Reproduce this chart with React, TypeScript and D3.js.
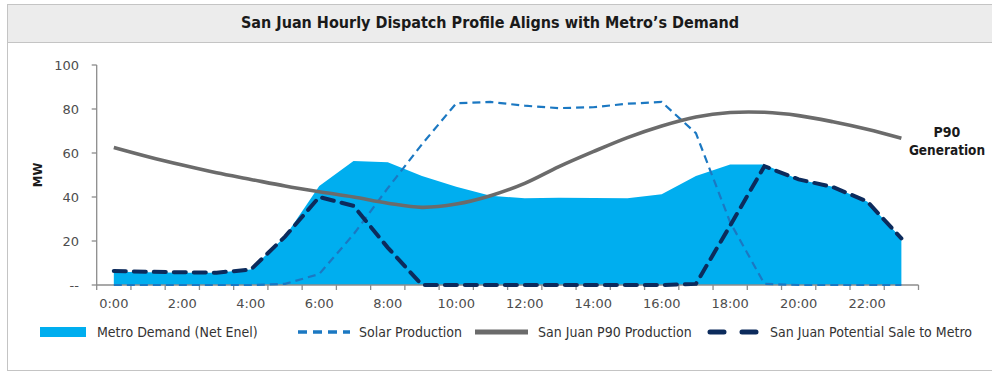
import React from "react";
import * as d3 from "d3";

// Hourly categories 0:00 .. 23:00
const hours: string[] = d3.range(24).map((h) => `${h}:00`);
const tickLabels: string[] = hours.filter((_, i) => i % 2 === 0);
const yTicks: number[] = [0, 20, 40, 60, 80, 100];

// Series values in MW
const metroDemand: number[] = [
  6, 5.8, 5.6, 5.6, 7, 22, 45, 56.4, 55.8, 49.5, 44.7, 40.6,
  39.4, 39.7, 39.5, 39.4, 41.2, 49.5, 54.8, 54.8, 48, 44.7, 37.9, 21.2,
];
const solarProduction: number[] = [
  0, 0, 0, 0, 0, 0.5, 5, 23, 44, 64, 82.6, 83.2,
  81.5, 80.4, 80.8, 82.4, 83.2, 69, 28.5, 0.5, 0, 0, 0, 0,
];
const p90Production: number[] = [
  62.5, 58.3, 54.5, 51, 48, 45, 42.4, 40, 37.2, 35.3, 36.8, 40.6,
  46.2, 53.8, 60.6, 67, 72.3, 76.4, 78.4, 78.5, 77, 74.2, 70.8, 66.7,
];
const potentialSale: number[] = [
  6.4, 6, 5.8, 5.6, 7, 22, 40, 36, 17, 0, 0, 0,
  0, 0, 0, 0, 0, 0.5, 27, 54, 48, 44.5, 38, 21.2,
];

const W = 992;
const H = 372;
const M = { left: 96.7, right: 918.5, top: 65, bottom: 285 };

const COLORS = {
  demand: "#00aeef",
  solar: "#1b78c2",
  p90: "#6b6b6b",
  sale: "#0c2b5c",
  axis: "#8c8c8c",
  text: "#4d4d4d",
  frame: "#c4c4c4",
  band: "#ececec",
};

const narrow = "'Liberation Sans Narrow', 'DejaVu Sans Condensed', 'Arial Narrow', sans-serif";
const wide = "'DejaVu Sans', Verdana, sans-serif";

export default function App() {
  const xBand = d3.scaleBand<string>().domain(hours).range([M.left, M.right]);
  const xc = (i: number) => (xBand(hours[i]) as number) + xBand.bandwidth() / 2;
  const y = d3.scaleLinear().domain([0, 100]).range([M.bottom, M.top]);

  const area = d3
    .area<number>()
    .x((_, i) => xc(i))
    .y0(y(0))
    .y1((d) => y(d));
  const lineLinear = d3
    .line<number>()
    .x((_, i) => xc(i))
    .y((d) => y(d));
  const lineSmooth = d3
    .line<number>()
    .x((_, i) => xc(i))
    .y((d) => y(d))
    .curve(d3.curveCatmullRom.alpha(0.5));

  const boundaries = [...hours.map((h) => xBand(h) as number), M.right];

  const legendY = 332;
  const legend = [
    { label: "Metro Demand (Net Enel)", kind: "area", x0: 40, x1: 86, tx: 97 },
    { label: "Solar Production", kind: "solar", x0: 298, x1: 350, tx: 359 },
    { label: "San Juan P90 Production", kind: "p90", x0: 475, x1: 528, tx: 538 },
    { label: "San Juan Potential Sale to Metro", kind: "sale", x0: 707, x1: 760, tx: 770 },
  ];

  return (
    <svg
      width={W}
      height={H}
      style={{ position: "absolute", left: 0, top: 0, background: "#fff" }}
    >
      {/* frame and title band */}
      <rect x={7.5} y={4.5} width={W} height={366} fill="#fff" stroke={COLORS.frame} />
      <rect x={7.5} y={4.5} width={W} height={38} fill={COLORS.band} stroke={COLORS.frame} />
      <text
        x={490}
        y={28}
        textAnchor="middle"
        fontFamily={narrow}
        fontWeight="bold"
        fontSize={16}
        fill="#1a1a1a"
      >
        San Juan Hourly Dispatch Profile Aligns with Metro’s Demand
      </text>

      {/* demand area */}
      <path d={area(metroDemand) as string} fill={COLORS.demand} />

      {/* axes */}
      <line x1={M.left} x2={M.left} y1={M.top} y2={M.bottom} stroke={COLORS.axis} strokeWidth={1.3} />
      <line x1={M.left} x2={M.right} y1={M.bottom} y2={M.bottom} stroke={COLORS.axis} strokeWidth={1.3} />
      {yTicks.map((t) => (
        <g key={t}>
          <line x1={M.left - 5} x2={M.left} y1={y(t)} y2={y(t)} stroke={COLORS.axis} strokeWidth={1.3} />
          <text
            x={79}
            y={y(t)}
            dy="0.35em"
            textAnchor="end"
            fontFamily={wide}
            fontSize={13}
            fill={COLORS.text}
          >
            {t === 0 ? "--" : t}
          </text>
        </g>
      ))}
      {boundaries.map((bx, i) => (
        <line key={i} x1={bx} x2={bx} y1={M.bottom} y2={M.bottom + 5} stroke={COLORS.axis} strokeWidth={1.3} />
      ))}
      {tickLabels.map((lab) => {
        const i = hours.indexOf(lab);
        return (
          <text
            key={lab}
            x={xc(i)}
            y={303}
            dy="0.35em"
            textAnchor="middle"
            fontFamily={wide}
            fontSize={13}
            fill={COLORS.text}
          >
            {lab}
          </text>
        );
      })}
      <text
        transform={`translate(42,175) rotate(-90)`}
        textAnchor="middle"
        fontFamily={narrow}
        fontWeight="bold"
        fontSize={13}
        fill="#1a1a1a"
      >
        MW
      </text>

      {/* series lines */}
      <path
        d={lineLinear(solarProduction) as string}
        fill="none"
        stroke={COLORS.solar}
        strokeWidth={2.2}
        strokeDasharray="8 5"
      />
      <path
        d={lineSmooth(p90Production) as string}
        fill="none"
        stroke={COLORS.p90}
        strokeWidth={3.6}
      />
      <path
        d={lineLinear(potentialSale) as string}
        fill="none"
        stroke={COLORS.sale}
        strokeWidth={4}
        strokeDasharray="12 8"
        strokeLinecap="round"
      />

      {/* line annotation */}
      <text
        x={947}
        y={132}
        dy="0.35em"
        textAnchor="middle"
        fontFamily={narrow}
        fontWeight="bold"
        fontSize={14}
        fill="#1a1a1a"
      >
        P90
      </text>
      <text
        x={947}
        y={150}
        dy="0.35em"
        textAnchor="middle"
        fontFamily={narrow}
        fontWeight="bold"
        fontSize={13.5}
        fill="#1a1a1a"
      >
        Generation
      </text>

      {/* legend */}
      {legend.map((l) => (
        <g key={l.label}>
          {l.kind === "area" && (
            <rect x={l.x0} y={legendY - 5} width={l.x1 - l.x0} height={10} fill={COLORS.demand} />
          )}
          {l.kind === "solar" && (
            <line
              x1={l.x0}
              x2={l.x1}
              y1={legendY}
              y2={legendY}
              stroke={COLORS.solar}
              strokeWidth={3.5}
              strokeDasharray="9 6"
            />
          )}
          {l.kind === "p90" && (
            <line x1={l.x0} x2={l.x1} y1={legendY} y2={legendY} stroke={COLORS.p90} strokeWidth={5} />
          )}
          {l.kind === "sale" && (
            <line
              x1={l.x0 + 3}
              x2={l.x1}
              y1={legendY}
              y2={legendY}
              stroke={COLORS.sale}
              strokeWidth={5}
              strokeDasharray="14 18"
              strokeLinecap="round"
            />
          )}
          <text
            x={l.tx}
            y={legendY}
            dy="0.35em"
            fontFamily={narrow}
            fontSize={14}
            fill="#333"
          >
            {l.label}
          </text>
        </g>
      ))}
    </svg>
  );
}
